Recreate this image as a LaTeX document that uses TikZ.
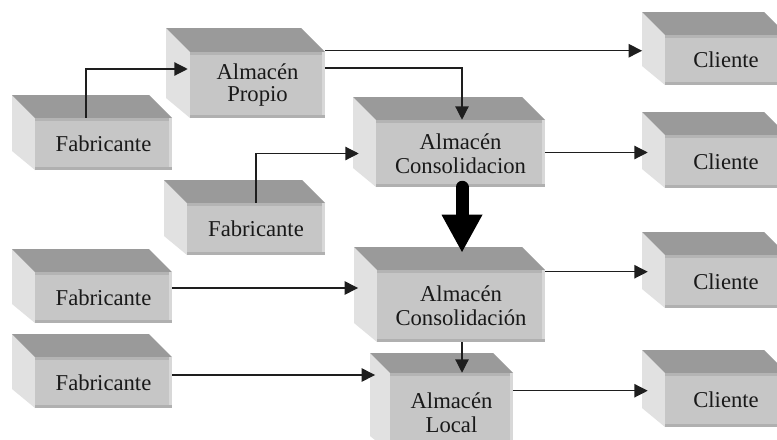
\documentclass[tikz,border=0pt]{standalone}
\usepackage{fontspec}
\setmainfont{Liberation Serif}
\usetikzlibrary{arrows.meta,calc}

\definecolor{facefront}{HTML}{C6C6C6}
\definecolor{facetop}{HTML}{9A9A9A}
\definecolor{faceside}{HTML}{E1E1E1}
\definecolor{edgetop}{HTML}{B4B4B4}
\definecolor{edgeright}{HTML}{D8D8D8}
\definecolor{edgebottom}{HTML}{B0B0B0}
\definecolor{inkline}{HTML}{1E1E1E}

\tikzset{
  front/.style={fill=facefront, inner sep=0pt, align=center,
    font=\fontsize{17}{18}\selectfont, text=black!90},
  conn/.style={draw=inkline, line width=0.9pt,
    -{Triangle[length=10pt,width=10pt]}},
  bigarrow/.style={draw=black, line width=9.75pt, line cap=round,
    -{Triangle[length=28.5pt,width=28.5pt]}},
}

% #1 name, #2 x1, #3 y1, #4 x2, #5 y2 (front face), #6 depth, #7 label
\newcommand\boxcube[7]{%
  \fill[faceside] (#2,#3) -- ++(-#6,-#6) -- (#2-#6,#5-#6+4) -- (#2,#5) -- cycle;
  \fill[facetop] (#2,#3) -- ++(-#6,-#6) -- (#4-#6,#3-#6) -- (#4,#3) -- cycle;
  \node[front, minimum width={(#4-#2)*0.75pt}, minimum height={(#5-#3)*0.75pt}]
    (#1) at ({(#2+#4)/2},{(#3+#5)/2}) {#7};
  \fill[edgetop] (#2,#3) rectangle (#4,#3+3);
  \fill[edgeright] (#4-3,#3) rectangle (#4,#5);
  \fill[edgebottom] (#2,#5-3) rectangle (#4,#5);
}

\begin{document}
\begin{tikzpicture}[x=0.75pt, y=-0.75pt]
  \clip (0,0) rectangle (777,439);
  \fill[white] (0,0) rectangle (777,439);

  % suppliers
  \boxcube{fab1}{35}{118}{172}{170}{23}{Fabricante}
  \boxcube{fab2}{187}{203}{325}{255}{23}{Fabricante}
  \boxcube{fab3}{35}{272}{172}{323}{23}{Fabricante}
  \boxcube{fab4}{35}{357}{172}{408}{23}{Fabricante}

  % warehouses
  \boxcube{propio}{190}{52}{325}{118}{24}{Almacén\\[-2pt]Propio}
  \boxcube{consA}{376}{120}{545}{187}{23}{Almacén\\Consolidacion}
  \boxcube{consB}{377}{270}{545}{342}{23}{Almacén\\Consolidación}
  \boxcube{local}{390}{373}{513}{452}{20}{Almacén\\Local}

  % customers
  \boxcube{cli1}{665}{35}{787}{85}{23}{Cliente}
  \boxcube{cli2}{665}{135}{787}{188}{23}{Cliente}
  \boxcube{cli3}{665}{255}{787}{308}{23}{Cliente}
  \boxcube{cli4}{665}{373}{787}{427}{23}{Cliente}

  % connector end points on the box faces
  \coordinate (fab1up) at ($(fab1.north)+(-17.5,0)$);
  \coordinate (propioA) at ($(propio.north east)+(0,-1)$);
  \coordinate (propioB) at ($(propio.east)+(0,-17)$);
  \coordinate (propioIn) at ($(propio.west)+(-2,-16)$);
  \coordinate (consAin) at ($(consA.north)+(1.5,0)$);
  \coordinate (consAout) at ($(consA.east)+(0,-1)$);
  \coordinate (consAdown) at ($(consA.south)+(1.5,0)$);
  \coordinate (fab3out) at ($(fab3.east)+(0,-9.5)$);
  \coordinate (consBout) at ($(consB.north east)+(0,2)$);
  \coordinate (consBdown) at ($(consB.south)+(1,0)$);
  \coordinate (fab4out) at ($(fab4.east)+(0,-7.5)$);
  \coordinate (localout) at ($(local.north east)+(0,18)$);

  % flows
  \draw[conn] (fab1up) |- (propioIn);
  \draw[conn, shorten >=17pt] (propioA) -- (propioA -| cli1.west);
  \draw[conn] (propioB) -| (consAin);
  \draw[conn, shorten >=12.75pt] (fab2.north) |- (consA.west);
  \draw[conn, shorten >=12.75pt] (consAout) -- (consAout -| cli2.west);
  \draw[bigarrow, shorten >=12.75pt] (consAdown) -- (consAdown |- consB.north);
  \draw[conn, shorten >=14pt] (fab3out) -- (fab3out -| consB.west);
  \draw[conn, shorten >=12.75pt] (consBout) -- (consBout -| cli3.west);
  \draw[conn] (consBdown) -- (consBdown |- local.north);
  \draw[conn, shorten >=11pt] (fab4out) -- (fab4out -| local.west);
  \draw[conn, shorten >=12.75pt] (localout) -- (localout -| cli4.west);
\end{tikzpicture}
\end{document}
